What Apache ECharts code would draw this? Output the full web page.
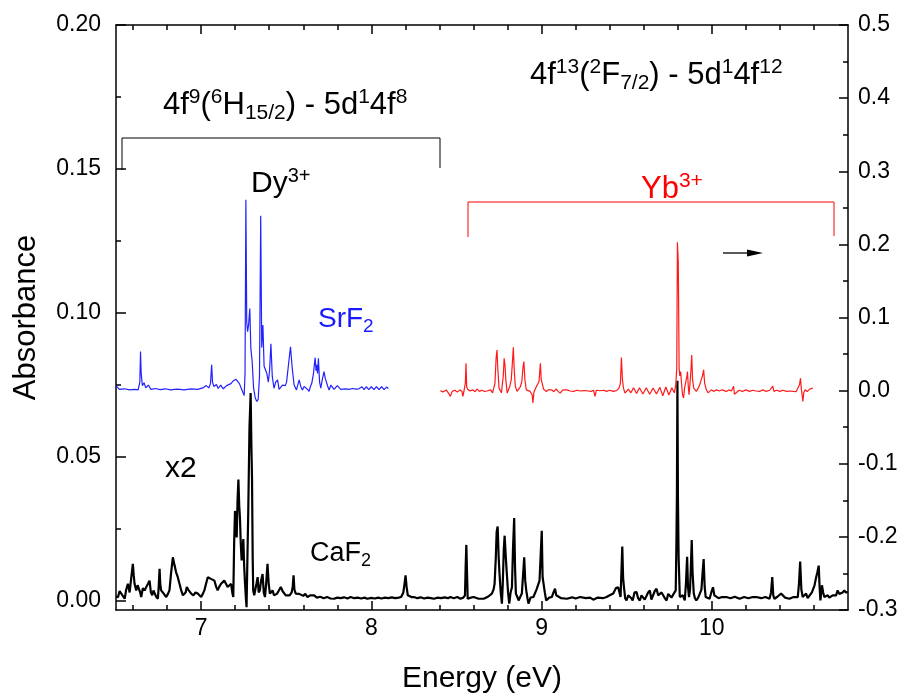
<!DOCTYPE html>
<html>
<head>
<meta charset="utf-8">
<script src="https://cdn.jsdelivr.net/npm/echarts@6/dist/echarts.min.js"></script>
<style>
  html, body { margin: 0; padding: 0; background: #fff; }
  #chart { width: 904px; height: 699px; }
</style>
</head>
<body>
<div id="chart"></div>
<script>
// Dy3+ in SrF2 (left axis), [energy eV, absorbance]
const dySrF2 = [
  [6.500,0.0748],[6.520,0.0735],[6.550,0.0737],[6.580,0.0733],[6.610,0.0735],[6.630,0.0733],[6.640,0.0760],[6.644,0.0866],[6.648,0.0790],[6.655,0.0748],[6.665,0.0758],[6.675,0.0740],[6.690,0.0750],[6.705,0.0735],[6.730,0.0738],[6.760,0.0734],[6.790,0.0737],[6.820,0.0733],[6.860,0.0736],[6.900,0.0733],[6.940,0.0737],[6.980,0.0735],[7.010,0.0740],[7.030,0.0748],[7.045,0.0740],[7.055,0.0755],[7.062,0.0820],[7.067,0.0760],[7.075,0.0745],[7.090,0.0752],[7.100,0.0738],[7.115,0.0750],[7.130,0.0737],[7.150,0.0748],[7.175,0.0755],[7.190,0.0765],[7.205,0.0770],[7.225,0.0755],[7.245,0.0725],[7.253,0.0714],[7.258,0.0790],[7.263,0.1393],[7.268,0.0969],[7.273,0.0935],[7.279,0.0960],[7.286,0.1016],[7.292,0.0878],[7.300,0.0831],[7.308,0.0740],[7.318,0.0705],[7.327,0.0693],[7.335,0.0700],[7.343,0.0780],[7.350,0.1338],[7.356,0.0880],[7.363,0.0958],[7.370,0.0815],[7.378,0.0803],[7.386,0.0790],[7.395,0.0760],[7.402,0.0800],[7.410,0.0893],[7.418,0.0780],[7.428,0.0739],[7.438,0.0760],[7.449,0.0768],[7.458,0.0735],[7.468,0.0733],[7.478,0.0750],[7.488,0.0756],[7.495,0.0748],[7.502,0.0760],[7.515,0.0830],[7.525,0.0883],[7.535,0.0810],[7.546,0.0751],[7.560,0.0733],[7.576,0.0768],[7.585,0.0745],[7.595,0.0733],[7.605,0.0745],[7.615,0.0745],[7.625,0.0735],[7.634,0.0728],[7.642,0.0745],[7.650,0.0756],[7.660,0.0790],[7.665,0.0820],[7.670,0.0845],[7.675,0.0800],[7.679,0.0820],[7.684,0.0790],[7.689,0.0843],[7.696,0.0760],[7.703,0.0739],[7.712,0.0770],[7.722,0.0797],[7.729,0.0774],[7.736,0.0774],[7.744,0.0745],[7.752,0.0733],[7.762,0.0750],[7.771,0.0751],[7.781,0.0735],[7.791,0.0733],[7.800,0.0748],[7.810,0.0745],[7.820,0.0735],[7.830,0.0733],[7.849,0.0737],[7.870,0.0735],[7.888,0.0738],[7.910,0.0736],[7.927,0.0737],[7.945,0.0744],[7.957,0.0734],[7.970,0.0744],[7.985,0.0734],[8.000,0.0744],[8.015,0.0734],[8.030,0.0744],[8.045,0.0734],[8.060,0.0744],[8.075,0.0734],[8.090,0.0743],[8.100,0.0738]
];

// Yb3+ in SrF2 (right axis), [energy eV, absorbance]
const ybSrF2 = [
  [8.406,0.0000],[8.420,-0.0020],[8.440,0.0010],[8.455,-0.0040],[8.464,-0.0079],[8.475,-0.0010],[8.490,0.0005],[8.505,-0.0020],[8.520,0.0010],[8.532,-0.0010],[8.538,-0.0079],[8.546,0.0020],[8.552,0.0100],[8.556,0.0374],[8.560,0.0050],[8.566,0.0020],[8.580,-0.0005],[8.595,0.0010],[8.610,-0.0015],[8.620,0.0022],[8.635,-0.0010],[8.650,0.0005],[8.665,-0.0011],[8.680,-0.0005],[8.689,-0.0011],[8.700,0.0010],[8.712,-0.0030],[8.718,-0.0057],[8.726,0.0100],[8.733,0.0450],[8.738,0.0556],[8.743,0.0300],[8.750,0.0034],[8.758,0.0030],[8.764,-0.0030],[8.769,-0.0057],[8.775,0.0200],[8.780,0.0442],[8.785,0.0351],[8.790,0.0150],[8.798,-0.0034],[8.806,-0.0034],[8.813,0.0057],[8.822,0.0150],[8.829,0.0400],[8.834,0.0592],[8.840,0.0250],[8.846,0.0057],[8.856,-0.0011],[8.865,-0.0011],[8.875,0.0050],[8.884,0.0125],[8.890,0.0300],[8.896,0.0397],[8.902,0.0150],[8.910,0.0011],[8.920,-0.0011],[8.933,-0.0011],[8.945,-0.0060],[8.949,-0.0170],[8.955,-0.0020],[8.965,0.0034],[8.975,0.0080],[8.985,0.0125],[8.993,0.0374],[8.998,0.0150],[9.005,0.0170],[9.012,0.0020],[9.027,-0.0011],[9.040,0.0011],[9.060,0.0011],[9.072,-0.0015],[9.085,0.0022],[9.097,-0.0010],[9.109,-0.0034],[9.125,0.0011],[9.148,0.0011],[9.168,-0.0005],[9.187,-0.0011],[9.210,0.0005],[9.226,-0.0005],[9.250,0.0000],[9.265,-0.0002],[9.290,-0.0010],[9.305,0.0005],[9.314,-0.0079],[9.322,0.0005],[9.343,-0.0002],[9.365,0.0005],[9.382,-0.0011],[9.400,0.0005],[9.421,-0.0011],[9.440,0.0000],[9.455,0.0034],[9.463,0.0100],[9.469,0.0451],[9.475,0.0150],[9.481,0.0034],[9.490,-0.0034],[9.499,-0.0034],[9.510,0.0020],[9.525,-0.0030],[9.540,0.0040],[9.558,-0.0040],[9.575,0.0040],[9.595,-0.0045],[9.615,0.0040],[9.635,-0.0050],[9.655,0.0035],[9.675,-0.0045],[9.695,0.0045],[9.712,-0.0070],[9.730,0.0050],[9.748,-0.0060],[9.765,0.0040],[9.780,-0.0030],[9.788,0.0080],[9.794,0.0300],[9.798,0.2030],[9.803,0.1757],[9.808,0.0306],[9.812,0.0200],[9.817,0.0261],[9.822,0.0100],[9.828,-0.0057],[9.834,-0.0100],[9.840,0.0034],[9.848,0.0050],[9.854,0.0200],[9.857,0.0261],[9.862,0.0050],[9.866,-0.0057],[9.872,0.0100],[9.878,0.0300],[9.882,0.0488],[9.887,0.0150],[9.894,0.0034],[9.902,0.0011],[9.909,-0.0011],[9.920,0.0034],[9.929,0.0080],[9.938,0.0150],[9.945,0.0200],[9.952,0.0284],[9.958,0.0100],[9.968,0.0011],[9.978,-0.0030],[9.987,-0.0034],[9.997,0.0011],[10.010,-0.0010],[10.027,0.0011],[10.045,-0.0005],[10.060,0.0011],[10.085,-0.0011],[10.100,0.0010],[10.115,-0.0005],[10.128,0.0060],[10.133,-0.0050],[10.144,-0.0025],[10.160,0.0005],[10.180,-0.0011],[10.200,0.0010],[10.222,-0.0011],[10.240,0.0005],[10.260,-0.0005],[10.280,-0.0011],[10.300,0.0010],[10.319,-0.0011],[10.340,0.0005],[10.358,0.0060],[10.365,-0.0010],[10.380,0.0005],[10.400,-0.0011],[10.417,0.0005],[10.440,-0.0011],[10.460,-0.0005],[10.480,-0.0011],[10.495,-0.0015],[10.505,0.0000],[10.515,0.0080],[10.521,0.0170],[10.526,0.0020],[10.530,-0.0050],[10.535,-0.0147],[10.540,-0.0030],[10.548,0.0011],[10.560,-0.0011],[10.575,0.0020],[10.593,0.0034]
];

// CaF2 (x2, left axis), [energy eV, absorbance]
const caF2 = [
  [6.500,0.0015],[6.512,0.0014],[6.521,0.0035],[6.531,0.0026],[6.541,0.0020],[6.551,0.0008],[6.560,0.0040],[6.570,0.0060],[6.580,0.0030],[6.590,0.0083],[6.599,0.0129],[6.604,0.0090],[6.609,0.0060],[6.619,0.0037],[6.627,0.0055],[6.635,0.0049],[6.642,0.0030],[6.648,0.0014],[6.658,0.0045],[6.668,0.0037],[6.678,0.0049],[6.688,0.0060],[6.697,0.0071],[6.705,0.0030],[6.713,0.0020],[6.720,0.0037],[6.726,0.0037],[6.736,0.0015],[6.746,0.0008],[6.751,0.0050],[6.756,0.0112],[6.760,0.0060],[6.765,0.0037],[6.775,0.0030],[6.785,0.0026],[6.795,0.0014],[6.805,0.0025],[6.814,0.0037],[6.824,0.0100],[6.834,0.0152],[6.844,0.0124],[6.853,0.0100],[6.863,0.0083],[6.873,0.0060],[6.883,0.0037],[6.893,0.0020],[6.902,0.0014],[6.909,0.0030],[6.916,0.0049],[6.924,0.0040],[6.931,0.0037],[6.943,0.0025],[6.955,0.0020],[6.967,0.0030],[6.980,0.0026],[6.990,0.0020],[7.000,0.0014],[7.010,0.0025],[7.019,0.0037],[7.029,0.0060],[7.039,0.0083],[7.048,0.0080],[7.058,0.0077],[7.068,0.0075],[7.078,0.0071],[7.088,0.0050],[7.097,0.0037],[7.107,0.0050],[7.117,0.0060],[7.127,0.0065],[7.136,0.0071],[7.146,0.0060],[7.156,0.0049],[7.166,0.0055],[7.176,0.0060],[7.183,0.0030],[7.189,0.0014],[7.194,0.0200],[7.199,0.0313],[7.204,0.0250],[7.209,0.0221],[7.214,0.0350],[7.219,0.0422],[7.224,0.0330],[7.228,0.0290],[7.233,0.0200],[7.238,0.0141],[7.243,0.0180],[7.248,0.0215],[7.253,0.0120],[7.258,0.0060],[7.263,0.0010],[7.267,-0.0021],[7.272,0.0150],[7.277,0.0313],[7.284,0.0600],[7.291,0.0722],[7.295,0.0550],[7.299,0.0428],[7.303,0.0150],[7.306,0.0037],[7.312,0.0020],[7.318,0.0014],[7.325,0.0060],[7.332,0.0083],[7.338,0.0030],[7.345,0.0037],[7.352,0.0070],[7.361,0.0094],[7.368,0.0030],[7.375,0.0014],[7.382,0.0060],[7.390,0.0129],[7.397,0.0060],[7.404,0.0026],[7.412,0.0030],[7.420,0.0037],[7.428,0.0020],[7.435,0.0014],
  [7.445,0.0025],[7.455,0.0035],[7.468,0.0049],[7.478,0.0035],[7.488,0.0030],[7.497,0.0020],[7.507,0.0026],[7.520,0.0020],[7.532,0.0030],[7.538,0.0050],[7.543,0.0089],[7.548,0.0040],[7.556,0.0026],[7.566,0.0020],[7.576,0.0025],[7.586,0.0020],[7.600,0.0018],[7.612,0.0025],[7.625,0.0014],[7.640,0.0020],[7.650,0.0015],[7.664,0.0020],[7.680,0.0012],[7.700,0.0015],[7.720,0.0010],[7.740,0.0014],[7.760,0.0009],[7.781,0.0008],[7.800,0.0012],[7.820,0.0010],[7.840,0.0013],[7.860,0.0009],[7.878,0.0014],[7.900,0.0010],[7.920,0.0012],[7.940,0.0009],[7.960,0.0012],[7.976,0.0008],[8.000,0.0011],[8.020,0.0009],[8.040,0.0012],[8.060,0.0009],[8.080,0.0012],[8.100,0.0010],[8.120,0.0013],[8.140,0.0010],[8.160,0.0012],[8.175,0.0014],[8.188,0.0030],[8.195,0.0060],[8.201,0.0089],[8.207,0.0050],[8.214,0.0020],[8.220,0.0026],[8.235,0.0014],[8.250,0.0014],[8.270,0.0010],[8.290,0.0013],[8.310,0.0009],[8.330,0.0012],[8.350,0.0010],[8.367,0.0008],[8.390,0.0012],[8.410,0.0010],[8.430,0.0013],[8.450,0.0010],[8.464,0.0014],
  [8.484,0.0010],[8.505,0.0014],[8.523,0.0008],[8.540,0.0012],[8.550,0.0020],[8.554,0.0120],[8.558,0.0195],[8.562,0.0100],[8.566,0.0008],[8.585,0.0012],[8.601,0.0014],[8.630,0.0008],[8.660,0.0008],[8.685,0.0015],[8.708,0.0026],[8.718,0.0040],[8.724,0.0060],[8.731,0.0150],[8.736,0.0240],[8.742,0.0259],[8.748,0.0150],[8.753,0.0094],[8.760,0.0030],[8.767,-0.0009],[8.772,0.0060],[8.778,0.0180],[8.783,0.0227],[8.790,0.0150],[8.796,0.0094],[8.803,0.0030],[8.810,-0.0009],[8.818,0.0030],[8.826,0.0048],[8.832,0.0180],[8.839,0.0288],[8.844,0.0120],[8.849,0.0026],[8.857,0.0015],[8.865,0.0002],[8.875,0.0015],[8.884,0.0026],[8.890,0.0080],[8.898,0.0152],[8.904,0.0070],[8.910,0.0037],[8.917,0.0010],[8.923,-0.0009],[8.935,0.0012],[8.952,0.0014],[8.970,0.0040],[8.988,0.0071],[8.994,0.0150],[9.001,0.0244],[9.006,0.0083],[9.011,0.0083],[9.019,0.0030],[9.027,0.0002],[9.045,0.0012],[9.060,0.0014],[9.070,0.0030],[9.079,0.0043],[9.086,0.0020],[9.093,0.0014],[9.115,0.0010],[9.148,0.0008],[9.180,0.0013],[9.200,0.0009],[9.226,0.0014],[9.260,0.0010],[9.285,0.0012],[9.304,0.0005],[9.330,0.0012],[9.360,0.0010],[9.382,0.0014],[9.400,0.0020],[9.421,0.0026],[9.437,0.0045],[9.450,0.0048],[9.464,0.0014],[9.469,0.0100],[9.474,0.0189],[9.479,0.0080],[9.484,0.0048],[9.491,0.0010],[9.499,0.0002],[9.509,0.0020],[9.519,0.0026],[9.527,0.0010],[9.535,0.0002],[9.546,0.0030],[9.558,0.0031],[9.567,0.0010],[9.577,0.0002],[9.587,0.0020],[9.597,0.0026],[9.606,0.0005],[9.616,0.0008],[9.626,0.0030],[9.636,0.0037],[9.645,0.0005],[9.655,0.0002],[9.665,0.0035],[9.675,0.0043],[9.685,0.0020],[9.695,0.0014],[9.705,0.0030],[9.714,0.0031],[9.724,0.0010],[9.734,0.0002],[9.744,0.0025],[9.753,0.0026],[9.763,0.0012],[9.773,0.0008],[9.781,0.0030],[9.788,0.0037],[9.792,0.0200],[9.795,0.0370],[9.798,0.0765],[9.801,0.0360],[9.805,0.0150],[9.812,0.0014],[9.820,0.0010],[9.830,0.0020],[9.841,0.0002],[9.848,0.0060],[9.855,0.0154],[9.860,0.0050],[9.866,0.0014],[9.872,0.0040],[9.877,0.0120],[9.882,0.0212],[9.887,0.0100],[9.894,0.0026],[9.901,0.0010],[9.909,0.0002],[9.920,0.0012],[9.930,0.0014],[9.939,0.0040],[9.946,0.0100],[9.952,0.0146],[9.958,0.0050],[9.964,0.0014],[9.975,0.0010],[9.987,0.0008],[9.997,0.0030],[10.007,0.0048],[10.015,0.0020],[10.023,0.0014],[10.040,0.0010],[10.060,0.0014],[10.085,0.0014],[10.110,0.0010],[10.135,0.0015],[10.163,0.0008],[10.190,0.0014],[10.215,0.0010],[10.240,0.0014],[10.261,0.0014],[10.290,0.0010],[10.315,0.0014],[10.339,0.0008],[10.348,0.0030],[10.355,0.0083],[10.361,0.0020],[10.368,0.0008],[10.385,0.0015],[10.407,0.0026],[10.430,0.0012],[10.456,0.0008],[10.480,0.0014],[10.505,0.0014],[10.512,0.0060],[10.519,0.0137],[10.526,0.0040],[10.534,0.0014],[10.544,0.0020],[10.554,0.0026],[10.563,0.0010],[10.573,0.0008],[10.588,0.0030],[10.603,0.0054],[10.612,0.0080],[10.620,0.0100],[10.628,0.0123],[10.633,0.0050],[10.638,0.0002],[10.643,0.0030],[10.647,0.0055],[10.654,0.0030],[10.661,0.0014],[10.671,0.0010],[10.681,0.0020],[10.690,0.0012],[10.700,0.0008],[10.710,0.0020],[10.720,0.0026],[10.730,0.0020],[10.739,0.0037],[10.749,0.0025],[10.759,0.0020],[10.769,0.0030],[10.778,0.0037],[10.788,0.0030],[10.798,0.0031]
];

// Axis ticks
const energyTicks = [7, 8, 9, 10];
const energyMinorTicks = [6.6, 6.8, 7.2, 7.4, 7.6, 7.8, 8.2, 8.4, 8.6, 8.8, 9.2, 9.4, 9.6, 9.8, 10.2, 10.4, 10.6];
const absTicks = [0, 0.05, 0.10, 0.15, 0.20];
const absMinorTicks = [0.025, 0.075, 0.125, 0.175];

const FONT = 'Liberation Sans, Arial, sans-serif';
const chart = echarts.init(document.getElementById('chart'), null, { renderer: 'canvas' });

const X_MIN = 6.5, X_MAX = 10.8;
const YL_MIN = -0.0031, YL_MAX = 0.2;

function xAxisBase(position, ticks, len, withLabels, withLine) {
  return {
    type: 'value', position: position, min: X_MIN, max: X_MAX,
    axisLine: { show: withLine, onZero: false, lineStyle: { color: '#000', width: 1.5 } },
    axisTick: { show: true, inside: true, length: len, customValues: ticks, lineStyle: { color: '#000', width: 1.5 } },
    axisLabel: withLabels
      ? { show: true, customValues: ticks, fontSize: 23, color: '#000', fontFamily: FONT, margin: 7 }
      : { show: false },
    splitLine: { show: false }
  };
}

function leftAxis(ticks, len, withLabels, withLine) {
  return {
    type: 'value', position: 'left', min: YL_MIN, max: YL_MAX,
    axisLine: { show: withLine, onZero: false, lineStyle: { color: '#000', width: 1.5 } },
    axisTick: { show: true, inside: true, length: len, customValues: ticks, lineStyle: { color: '#000', width: 1.5 } },
    axisLabel: withLabels
      ? { show: true, customValues: ticks, fontSize: 23, color: '#000', fontFamily: FONT, margin: 15,
          formatter: v => v.toFixed(2) }
      : { show: false },
    splitLine: { show: false }
  };
}

function richStyles(color, size) {
  const sub = Math.round(size * 0.68);
  return {
    n: { fontSize: size, fontFamily: FONT, color: color, lineHeight: size + 6, verticalAlign: 'middle' },
    sup: { fontSize: sub, fontFamily: FONT, color: color, lineHeight: sub + 2, verticalAlign: 'top' },
    sub: { fontSize: sub, fontFamily: FONT, color: color, lineHeight: sub + 2, verticalAlign: 'bottom' }
  };
}
function richText(x, y, text, color, size) {
  return {
    type: 'text', left: x, top: y, z: 100,
    style: { text: text, rich: richStyles(color, size), fill: color, font: size + 'px ' + FONT }
  };
}

const option = {
  animation: false,
  backgroundColor: '#fff',
  grid: { left: 116, right: 56, top: 25, bottom: 80, containLabel: false },
  xAxis: [
    Object.assign(xAxisBase('bottom', energyTicks, 9, true, true), {
      name: 'Energy (eV)', nameLocation: 'middle', nameGap: 54,
      nameTextStyle: { fontSize: 30, color: '#000', fontFamily: FONT }
    }),
    xAxisBase('bottom', energyMinorTicks, 5, false, false),
    xAxisBase('top', energyTicks, 9, false, true),
    xAxisBase('top', energyMinorTicks, 5, false, false)
  ],
  yAxis: [
    Object.assign(leftAxis(absTicks, 10, true, true), {
      name: 'Absorbance', nameLocation: 'middle', nameGap: 74, nameRotate: 90,
      nameTextStyle: { fontSize: 31, color: '#000', fontFamily: FONT }
    }),
    {
      type: 'value', position: 'right', min: -0.3, max: 0.5, interval: 0.1,
      axisLine: { show: true, onZero: false, lineStyle: { color: '#000', width: 1.5 } },
      axisTick: { show: true, inside: true, length: 9, lineStyle: { color: '#000', width: 1.5 } },
      minorTick: { show: true, splitNumber: 2, length: 5, lineStyle: { color: '#000', width: 1.5 } },
      axisLabel: { show: true, fontSize: 23, color: '#000', fontFamily: FONT, margin: 10,
        formatter: v => v.toFixed(1) },
      splitLine: { show: false }, minorSplitLine: { show: false }
    },
    leftAxis(absMinorTicks, 5, false, false)
  ],
  series: [
    {
      name: 'CaF2', type: 'line', xAxisIndex: 0, yAxisIndex: 0, data: caF2,
      showSymbol: false, symbol: 'none', z: 2,
      lineStyle: { color: '#000', width: 2.2 }
    },
    {
      name: 'SrF2 Dy', type: 'line', xAxisIndex: 0, yAxisIndex: 0, data: dySrF2,
      showSymbol: false, symbol: 'none', z: 3,
      lineStyle: { color: '#2222ff', width: 1.2 }
    },
    {
      name: 'SrF2 Yb', type: 'line', xAxisIndex: 0, yAxisIndex: 1, data: ybSrF2,
      showSymbol: false, symbol: 'none', z: 3,
      lineStyle: { color: '#ff1a1a', width: 1.2 }
    }
  ],
  graphic: [
    richText(163, 87, '{n|4f}{sup|9}{n|(}{sup|6}{n|H}{sub|15/2}{n|) - 5d}{sup|1}{n|4f}{sup|8}', '#000', 31),
    richText(530, 57, '{n|4f}{sup|13}{n|(}{sup|2}{n|F}{sub|7/2}{n|) - 5d}{sup|1}{n|4f}{sup|12}', '#000', 31),
    richText(251, 166, '{n|Dy}{sup|3+}', '#000', 30),
    richText(641, 171, '{n|Yb}{sup|3+}', '#ff0000', 31),
    richText(318, 305, '{n|SrF}{sub|2}', '#1a1aff', 28),
    richText(310, 540, '{n|CaF}{sub|2}', '#000', 27),
    richText(165, 454, '{n|x2}', '#000', 30),
    {
      type: 'polyline', z: 100,
      shape: { points: [[122, 170], [122, 138], [440, 138], [440, 168]] },
      style: { stroke: '#000', lineWidth: 1, fill: null }
    },
    {
      type: 'polyline', z: 100,
      shape: { points: [[468, 237], [468, 202], [834, 202], [834, 236]] },
      style: { stroke: '#ff0000', lineWidth: 1, fill: null }
    },
    {
      type: 'line', z: 100,
      shape: { x1: 723, y1: 253, x2: 750, y2: 253 },
      style: { stroke: '#000', lineWidth: 1.3 }
    },
    {
      type: 'polygon', z: 100,
      shape: { points: [[747, 249.5], [763, 253], [747, 256.5]] },
      style: { fill: '#000' }
    }
  ]
};

chart.setOption(option);
</script>
</body>
</html>
